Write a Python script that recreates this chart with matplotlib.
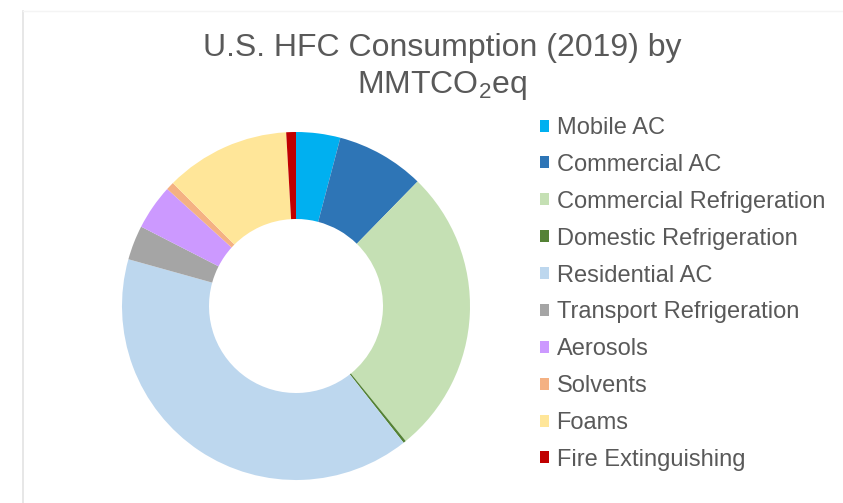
import matplotlib
matplotlib.use("Agg")
import matplotlib.pyplot as plt
from matplotlib.lines import Line2D

# share of U.S. HFC consumption (2019), % of MMTCO2eq
categories = ["Mobile AC", "Commercial AC", "Commercial Refrigeration",
              "Domestic Refrigeration", "Residential AC", "Transport Refrigeration",
              "Aerosols", "Solvents", "Foams", "Fire Extinguishing"]
shares = [4.1, 8.2, 26.8, 0.25, 39.9, 3.2, 4.2, 0.75, 11.6, 0.9]
colors = ["#00B0F0", "#2E75B6", "#C5E0B4", "#548235", "#BDD7EE",
          "#A5A5A5", "#CC99FF", "#F4B183", "#FFE699", "#C00000"]

plt.rcParams["font.family"] = ["Liberation Sans", "DejaVu Sans"]
plt.rcParams["mathtext.fontset"] = "custom"
plt.rcParams["mathtext.rm"] = "Liberation Sans"
plt.rcParams["mathtext.default"] = "regular"

W, H = 843, 503
fig = plt.figure(figsize=(W / 100, H / 100), dpi=100)
text_color = "#595959"

# donut: center (296, 306) px, outer radius 174 px
cx, cy, r = 296, 306, 174
ax = fig.add_axes([(cx - r) / W, (H - cy - r) / H, 2 * r / W, 2 * r / H])
wedges, _ = ax.pie(shares, colors=colors, startangle=90, counterclock=False,
                   radius=1, wedgeprops=dict(width=0.5, linewidth=0))
ax.set_xlim(-1, 1)
ax.set_ylim(-1, 1)
ax.set_aspect("equal")
ax.axis("off")

# title, two centered lines
fig.text(442 / W, (H - 56) / H, "U.S. HFC Consumption (2019) by",
         ha="center", va="baseline", fontsize=23, color=text_color)
fig.text(442 / W, (H - 93) / H, "MMTCO$_2$eq",
         ha="center", va="baseline", fontsize=23, color=text_color)

leg = fig.legend(wedges, categories, loc="upper left",
                 bbox_to_anchor=(540 / W, (H - 117) / H),
                 frameon=False, fontsize=17, borderpad=0, borderaxespad=0,
                 handlelength=0.4, handleheight=0.4, handletextpad=0.3,
                 labelspacing=0.63)
for t in leg.get_texts():
    t.set_color(text_color)

# faint frame lines of the chart area
fig.add_artist(Line2D([23 / W, 23 / W], [0, (H - 11) / H], color="#e3e3e3", lw=1.2))
fig.add_artist(Line2D([23 / W, 1], [(H - 11) / H, (H - 11) / H], color="#f4f4f4", lw=1))

fig.savefig("out.png", dpi=100, facecolor="white")
